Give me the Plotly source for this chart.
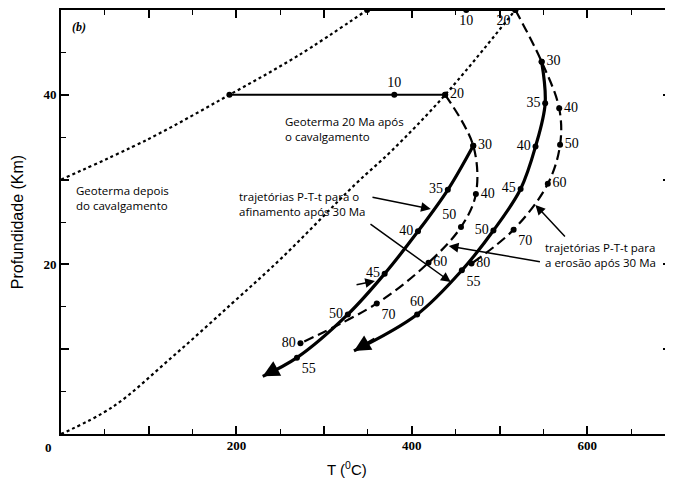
import plotly.graph_objects as go

# ---------------- data (T in °C, depth in km) ----------------
geo_after_T = [0, 100, 192, 270, 349]
geo_after_D = [30, 34.8, 40, 44.6, 50]

geo20_T = [0, 59, 127, 195, 252, 336, 377, 438, 518]
geo20_D = [0, 3.2, 9.1, 15.4, 20.8, 29.5, 33.4, 40, 50]

row40_T = [192, 380, 438]
row40_D = [40, 40, 40]
row40_lab = ["", "10", ""]

row50_T = [349, 462, 518]
row50_D = [50, 50, 50]
row50_lab = ["", "10", ""]

A_dash_T = [438, 470, 473, 456, 419, 360, 273]
A_dash_D = [40, 34.0, 28.3, 24.4, 20.2, 15.4, 10.7]
A_dash_lab = ["20", "30", "40", "50", "60", "70", "80"]

A_sol_T = [470, 441, 407, 369, 327, 269, 230]
A_sol_D = [34.0, 28.8, 23.9, 18.9, 14.1, 9.0, 6.8]
A_sol_lab = ["", "35", "40", "45", "50", "55", None]

B_dash_T = [518, 548, 568, 569, 555, 516, 468]
B_dash_D = [50, 43.9, 38.4, 34.1, 29.5, 24.1, 20.1]
B_dash_lab = ["20", "30", "40", "50", "60", "70", "80"]

B_sol_T = [548, 552, 541, 524, 493, 457, 406, 334]
B_sol_D = [43.9, 39.0, 33.9, 28.9, 24.0, 19.3, 14.1, 9.8]
B_sol_lab = ["", "35", "40", "45", "50", "55", "60", None]

x_tickvals = [0, 100, 200, 300, 400, 500, 600, 700]
x_ticktext = ["", "", "200", "", "400", "", "600", ""]
y_tickvals = [0, 10, 20, 30, 40, 50]
y_ticktext = ["", "", "20", "", "40", ""]

# ---------------- styling helpers ----------------
LBL_FONT = dict(family="Liberation Serif", size=14, color="black")
SANS = dict(family="Open Sans", size=11.5, color="black")

A_dash_pos = ["middle right", "middle right", "middle right", "top left",
              "middle right", "bottom right", "middle left"]
A_sol_pos = ["middle left", "middle left", "middle left", "middle left",
             "middle left", "bottom right", "middle left"]
B_dash_pos = ["bottom left", "middle right", "middle right", "middle right",
              "middle right", "bottom right", "middle right"]
B_sol_pos = ["middle left", "middle left", "middle left", "middle left",
             "middle left", "bottom right", "top center", "middle left"]

fig = go.Figure()

def line(x, y, width, dash, shape="spline"):
    fig.add_trace(go.Scatter(x=x, y=y, mode="lines", line=dict(color="black", width=width,
                                                              dash=dash, shape=shape),
                             hoverinfo="skip", showlegend=False, cliponaxis=False))

def pts(x, y, labels, pos):
    xs = [a for a, l in zip(x, labels) if l is not None]
    ys = [b for b, l in zip(y, labels) if l is not None]
    ls = [l for l in labels if l is not None]
    ps = [p for p, l in zip(pos, labels) if l is not None]
    fig.add_trace(go.Scatter(x=xs, y=ys, mode="markers+text", text=ls, textposition=ps,
                             textfont=LBL_FONT, marker=dict(color="black", size=6),
                             hoverinfo="skip", showlegend=False, cliponaxis=False))

# geotherms (dotted)
line(geo_after_T, geo_after_D, 2.2, "dot")
line(geo20_T, geo20_D, 2.2, "dot")

# initial isobaric heating (solid)
line(row40_T, row40_D, 2, "solid", "linear")
line(row50_T, row50_D, 2, "solid", "linear")

# erosion paths (dashed)
line(A_dash_T, A_dash_D, 2.2, "10px,5px")
line(B_dash_T, B_dash_D, 2.2, "10px,5px")

# thinning paths (thick solid)
line(A_sol_T, A_sol_D, 3.2, "solid")
line(B_sol_T, B_sol_D, 3.2, "solid")

# points and labels
pts(row40_T, row40_D, row40_lab, ["middle left", "top center", "middle right"])
pts(row50_T, row50_D, row50_lab, ["middle left", "bottom center", "bottom left"])
pts(A_dash_T, A_dash_D, A_dash_lab, A_dash_pos)
pts(A_sol_T, A_sol_D, A_sol_lab, A_sol_pos)
pts(B_dash_T, B_dash_D, B_dash_lab, B_dash_pos)
pts(B_sol_T, B_sol_D, B_sol_lab, B_sol_pos)

ann = []
# arrowheads at the ends of the thinning paths
for xs, ys in ((A_sol_T, A_sol_D), (B_sol_T, B_sol_D)):
    tx = xs[-1] + 0.35 * (xs[-2] - xs[-1])
    ty = ys[-1] + 0.35 * (ys[-2] - ys[-1])
    ann.append(dict(x=xs[-1], y=ys[-1], ax=tx, ay=ty, xref="x", yref="y",
                    axref="x", ayref="y", showarrow=True, arrowhead=2, arrowsize=1.1,
                    arrowwidth=3, arrowcolor="black", text="", standoff=0))

def P(px, py):
    # page pixel -> data coordinates
    return ((px - 61) / 0.88, (434 - py) / 8.48)

def callout_px(hx, hy, tx, ty):
    a = P(hx, hy); b = P(tx, ty)
    ann.append(dict(x=a[0], y=a[1], ax=b[0], ay=b[1], xref="x", yref="y", axref="x", ayref="y",
                    showarrow=True, arrowhead=2, arrowsize=1.3, arrowwidth=1.5,
                    arrowcolor="black", text="", standoff=0))

callout_px(432, 209, 372, 197)
callout_px(452, 282, 370, 223)
callout_px(376, 281, 356, 285)
callout_px(450, 246, 543, 262)
callout_px(537, 205, 568, 238)

def text_px(px, py, txt, font=SANS, xanchor="left"):
    a = P(px, py)
    ann.append(dict(x=a[0], y=a[1], xref="x", yref="y", text=txt, showarrow=False,
                    xanchor=xanchor, yanchor="middle", align="left", font=font))

text_px(74, 198, "Geoterma depois<br>do cavalgamento")
text_px(284, 129, "Geoterma 20 Ma após<br>o cavalgamento")
text_px(238, 204, "trajetórias P-T-t para o<br>afinamento após 30 Ma")
text_px(545, 255, "trajetórias P-T-t para<br>a erosão após 30 Ma")
text_px(70, 27, "<b><i>(b)</i></b>", dict(family="Liberation Serif", size=12, color="black"))

# y-axis "0" label and axis titles (paper coords relative to the plot area)
PW, PH = 612, 424
ann.append(dict(x=(48 - 61) / PW, y=(434 - 447) / PH, xref="paper", yref="paper",
                text="<b>0</b>", showarrow=False, xanchor="center", yanchor="middle",
                font=dict(family="Liberation Serif", size=13, color="black")))
ann.append(dict(x=(17 - 61) / PW, y=(434 - 222) / PH, xref="paper", yref="paper",
                text="Profundidade (Km)", textangle=-90, showarrow=False,
                xanchor="center", yanchor="middle",
                font=dict(family="Liberation Sans", size=16, color="black")))
ann.append(dict(x=(348 - 61) / PW, y=(434 - 468) / PH, xref="paper", yref="paper",
                text="T (<sup>0</sup>C)", showarrow=False, xanchor="center", yanchor="middle",
                font=dict(family="Liberation Sans", size=15, color="black")))

axis_common = dict(showline=True, linewidth=2, linecolor="black", mirror="ticks",
                   ticks="inside", ticklen=8, tickwidth=1.5, tickcolor="black",
                   showgrid=False, zeroline=False,
                   tickfont=dict(family="Liberation Serif", size=13, color="black", weight="bold"))

# the page body has an 8px default margin, so the figure is sized/margined to put
# the plot area at page pixels x 61..673, y 10..434
fig.update_layout(
    width=665, height=475, margin=dict(l=53, r=0, t=2, b=49),
    paper_bgcolor="white", plot_bgcolor="white", showlegend=False,
    xaxis=dict(range=[0, PW / 0.88], tickvals=x_tickvals, ticktext=x_ticktext,
               ticklabelstandoff=-2,
               minor=dict(dtick=50, ticks="inside", ticklen=5, tickwidth=1.2, tickcolor="black"),
               **axis_common),
    yaxis=dict(range=[0, 50], tickvals=y_tickvals, ticktext=y_ticktext,
               minor=dict(dtick=5, ticks="inside", ticklen=5, tickwidth=1.2, tickcolor="black"),
               **axis_common),
    annotations=ann,
)

fig.write_html("out.html")
